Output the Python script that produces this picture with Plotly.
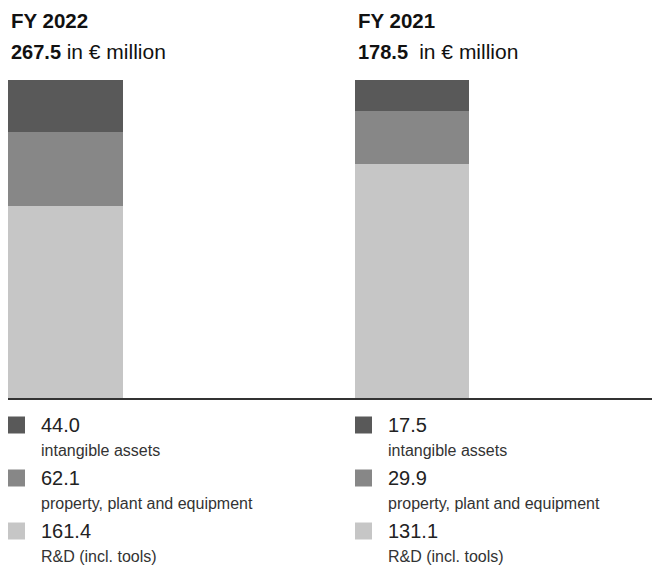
import plotly.graph_objects as go

years = ["FY 2022", "FY 2021"]
totals = ["267.5", "178.5"]
categories = ["R&D (incl. tools)", "property, plant and equipment", "intangible assets"]
values_2022 = [161.4, 62.1, 44.0]
values_2021 = [131.1, 29.9, 17.5]
colors = ["#c6c6c6", "#878787", "#595959"]

W, H = 652, 575
FONT = "Liberation Sans, Arial, sans-serif"

fig = go.Figure()
series = [values_2022, values_2021]
axes = [("x", "y"), ("x2", "y2")]
for vals, yr, (xa, ya) in zip(series, years, axes):
    for cat, v, c in zip(categories, vals, colors):
        fig.add_trace(go.Bar(x=[yr], y=[v], name=cat, marker=dict(color=c, line=dict(width=0)),
                             xaxis=xa, yaxis=ya, width=1, showlegend=False, hoverinfo="y+name"))

def px(x):
    return x / W

def py(y):
    return 1 - y / H

fig.update_layout(
    width=W, height=H, margin=dict(l=0, r=0, t=0, b=0),
    paper_bgcolor="white", plot_bgcolor="white",
    barmode="stack", barnorm="percent",
    font=dict(family=FONT, color="#1a1a1a"),
    xaxis=dict(domain=[px(8), px(355)], range=[-0.5, -0.5 + 347 / 115], showticklabels=False, ticks="",
               showgrid=False, zeroline=False, showline=True, linecolor="#333333", linewidth=1.5),
    xaxis2=dict(domain=[px(355), 1.0], range=[-0.5, -0.5 + 297 / 114], showticklabels=False, ticks="",
                showgrid=False, zeroline=False, showline=True, linecolor="#333333", linewidth=1.5,
                anchor="y2"),
    yaxis=dict(domain=[py(398), py(80)], range=[0, 100], visible=False),
    yaxis2=dict(domain=[py(398), py(80)], range=[0, 100], visible=False, anchor="x2"),
)

annotations = []
shapes = []
col_x = [8, 355]
gaps = [" ", "&nbsp; "]
for i, (yr, tot, vals) in enumerate(zip(years, totals, series)):
    x0 = col_x[i]
    annotations.append(dict(x=px(x0 + 1), y=py(20), xref="paper", yref="paper", xanchor="left",
                            yanchor="middle", showarrow=False, text=f"<b>{yr}</b>",
                            font=dict(size=20.5, family=FONT, color="#111")))
    annotations.append(dict(x=px(x0 + 1), y=py(52), xref="paper", yref="paper", xanchor="left",
                            yanchor="middle", showarrow=False,
                            text=f"<b>{tot}</b>{gaps[i]}<span style='font-size:21px'>in € million</span>",
                            font=dict(size=20, family=FONT, color="#111")))
    order = [2, 1, 0]
    for row, k in enumerate(order):
        yc = 425 + 53 * row
        shapes.append(dict(type="rect", xref="paper", yref="paper",
                           x0=px(x0), x1=px(x0 + 17), y0=py(yc + 8.5), y1=py(yc - 8.5),
                           fillcolor=colors[k], line=dict(width=0)))
        annotations.append(dict(x=px(x0 + 31), y=py(yc), xref="paper", yref="paper",
                                xanchor="left", yanchor="middle", showarrow=False,
                                text=f"{vals[k]:.1f}", font=dict(size=20, family=FONT, color="#222")))
        annotations.append(dict(x=px(x0 + 31), y=py(yc + 25), xref="paper", yref="paper",
                                xanchor="left", yanchor="middle", showarrow=False,
                                text=categories[k], font=dict(size=16, family=FONT, color="#333")))

fig.update_layout(annotations=annotations, shapes=shapes)
fig.write_html("out.html", config={"displayModeBar": False},
               post_script="document.body.style.margin='0';document.body.style.overflow='hidden';")
